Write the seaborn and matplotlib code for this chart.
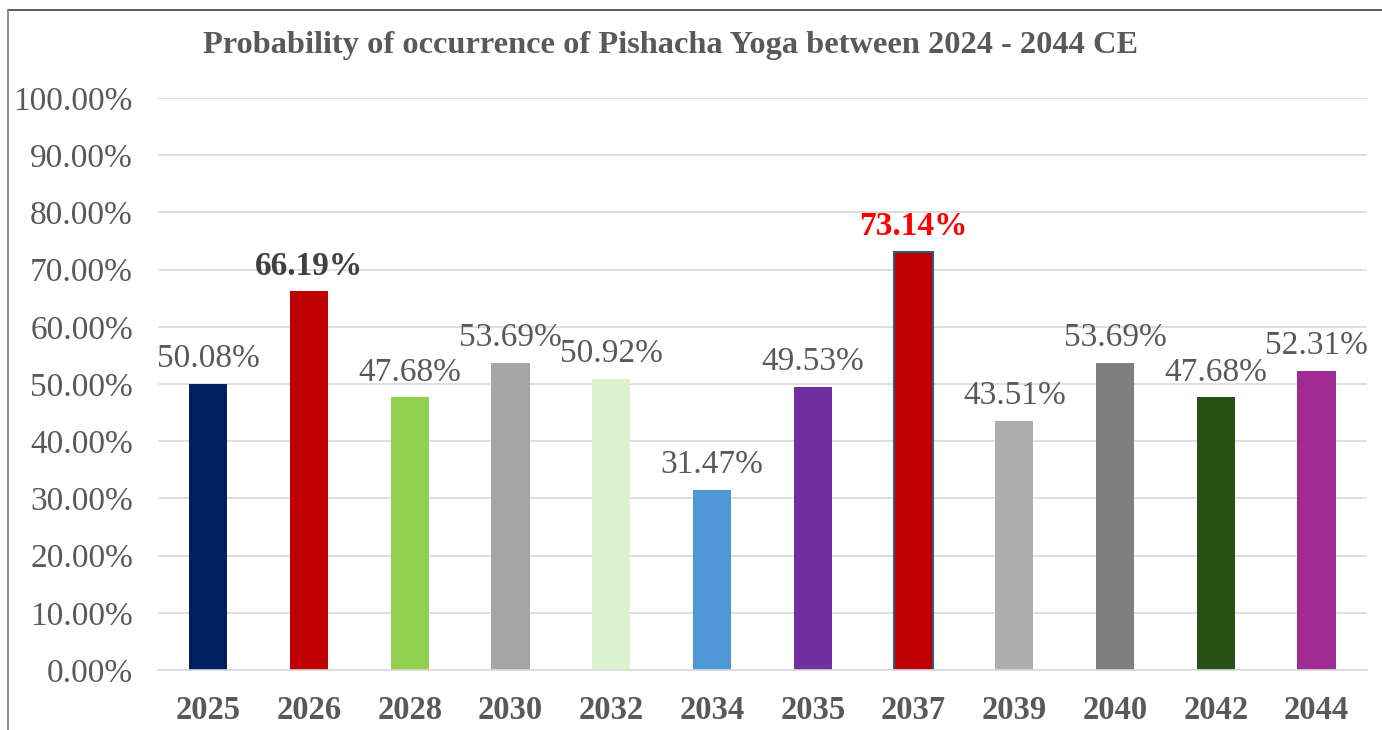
import matplotlib
matplotlib.use("Agg")
import matplotlib.pyplot as plt
import seaborn as sns
import pandas as pd
from matplotlib.lines import Line2D

years = ["2025", "2026", "2028", "2030", "2032", "2034", "2035", "2037", "2039", "2040", "2042", "2044"]
values = [50.08, 66.19, 47.68, 53.69, 50.92, 31.47, 49.53, 73.14, 43.51, 53.69, 47.68, 52.31]
colors = ["#002060", "#C00000", "#92D050", "#A5A5A5", "#DAF2D0", "#5097D8",
          "#7030A0", "#C00000", "#AEAEAE", "#7F7F7F", "#265218", "#A02B93"]
yticks = [0, 10, 20, 30, 40, 50, 60, 70, 80, 90, 100]
title = "Probability of occurrence of Pishacha Yoga between 2024 - 2044 CE"

sns.set_theme(style="white")
plt.rcParams["font.family"] = ["Liberation Serif", "DejaVu Serif"]

df = pd.DataFrame({"year": years, "value": values})

fig = plt.figure(figsize=(13.82, 7.30), dpi=100)
ax = fig.add_axes([0.1143, 0.0822, 0.8748, 0.7836])

sns.barplot(data=df, x="year", y="value", hue="year", palette=colors, legend=False,
            width=0.38, saturation=1, ax=ax, linewidth=0)

# outline on the 2037 bar
idx37 = years.index("2037")
ax.patches[idx37].set_edgecolor("#2E5C7E")
ax.patches[idx37].set_linewidth(1.5)

ax.set_xlim(-0.5, len(years) - 0.5)
ax.set_ylim(0, 100)
ax.set_yticks(yticks)
ax.set_yticklabels([f"{v:.2f}%" for v in yticks], fontsize=24, color="#595959")
ax.tick_params(axis="y", length=0, pad=18)
ax.tick_params(axis="x", length=0, pad=18)
for lab in ax.get_xticklabels():
    lab.set_fontsize(23.5)
    lab.set_fontweight("bold")
    lab.set_color("#595959")
ax.set_xlabel("")
ax.set_ylabel("")
ax.yaxis.grid(True, color="#D9D9D9", linewidth=1.2)
ax.set_axisbelow(True)
for s in ["top", "right", "left"]:
    ax.spines[s].set_visible(False)
ax.spines["bottom"].set_color("#D9D9D9")
ax.spines["bottom"].set_linewidth(1.2)

for i, (y, v) in enumerate(zip(years, values)):
    if y == "2037":
        kw = dict(color="#FF0000", fontweight="bold")
    elif y == "2026":
        kw = dict(color="#404040", fontweight="bold")
    else:
        kw = dict(color="#595959")
    ax.annotate(f"{v:.2f}%", xy=(i, v), xytext=(0, 7), textcoords="offset points",
                ha="center", va="bottom", fontsize=24, **kw)

fig.text(0.4855, 0.937, title, ha="center", va="center", fontsize=23.3,
         fontweight="bold", color="#595959")

# chart frame (top and left visible)
fig.add_artist(Line2D([8 / 1382, 1.0], [1 - 10 / 730, 1 - 10 / 730], transform=fig.transFigure,
                      color="#404040", linewidth=1.2))
fig.add_artist(Line2D([8 / 1382, 8 / 1382], [0, 1 - 10 / 730], transform=fig.transFigure,
                      color="#808080", linewidth=1.2))

fig.savefig("out.png", dpi=100)
